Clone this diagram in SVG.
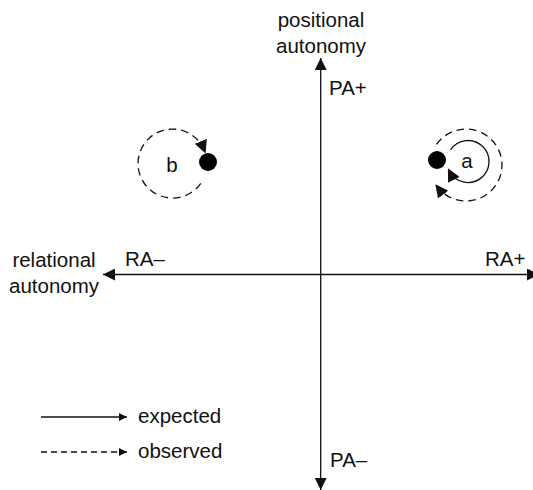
<svg xmlns="http://www.w3.org/2000/svg" width="533" height="490" viewBox="0 0 533 490">
<style>
text{font-family:"Liberation Sans",Arial,sans-serif;font-size:20.5px;fill:#111}
.c{text-anchor:middle}
.ln{stroke:#111;stroke-width:1.3;fill:none}
.ds{stroke-dasharray:7.5 5}
.dl{stroke-dasharray:6 4}
</style>
<defs>
<marker id="ax" markerUnits="userSpaceOnUse" markerWidth="12" markerHeight="12" viewBox="0 0 12 12" refX="12" refY="6" orient="auto-start-reverse">
<path d="M0,0 L12,6 L0,12 z" fill="#111"/>
</marker>
<marker id="ar" markerUnits="userSpaceOnUse" markerWidth="13" markerHeight="13" viewBox="0 0 13 13" refX="10" refY="6.5" orient="auto">
<path d="M0,0 L13,6.5 L0,13 z" fill="#111"/>
</marker>
<marker id="lg" markerUnits="userSpaceOnUse" markerWidth="8" markerHeight="8" viewBox="0 0 8 8" refX="8" refY="4" orient="auto">
<path d="M0,0 L8,4 L0,8 z" fill="#111"/>
</marker>
</defs>
<g id="connectors">
<line class="ln" x1="320.7" y1="58" x2="320.7" y2="490" marker-start="url(#ax)" marker-end="url(#ax)"/>
<line class="ln" x1="103" y1="274.5" x2="539" y2="274.5" marker-start="url(#ax)" marker-end="url(#ax)"/>
<path class="ln ds" d="M200.8,183.3 A34.5,34.5 0 1 1 204.5,150.6" marker-end="url(#ar)"/>
<path class="ln ds" d="M436.5,144.4 A36,36 0 1 1 437.2,186.7" marker-end="url(#ar)"/>
<path class="ln" d="M450.6,149.8 A21,21 0 1 1 449.3,171" marker-end="url(#ar)"/>
<line class="ln" x1="41" y1="417" x2="127" y2="417" marker-end="url(#lg)"/>
<line class="ln dl" x1="41" y1="452" x2="127" y2="452" marker-end="url(#lg)"/>
</g>
<g id="axis-positional">
<text class="c" x="321" y="27">positional</text>
<text class="c" x="321" y="52.5">autonomy</text>
<text x="329" y="95">PA+</text>
<text x="330" y="467">PA–</text>
</g>
<g id="axis-relational">
<text class="c" x="54" y="267">relational</text>
<text class="c" x="54" y="293">autonomy</text>
<text x="125" y="266">RA–</text>
<text x="485" y="266">RA+</text>
</g>
<g id="node-b">
<circle cx="208" cy="162" r="9" fill="#000"/>
<text class="c" x="172" y="171.5">b</text>
</g>
<g id="node-a">
<circle cx="437" cy="160" r="9" fill="#000"/>
<text class="c" x="467" y="168">a</text>
</g>
<g id="legend">
<text x="138" y="423">expected</text>
<text x="138" y="458">observed</text>
</g>
</svg>
